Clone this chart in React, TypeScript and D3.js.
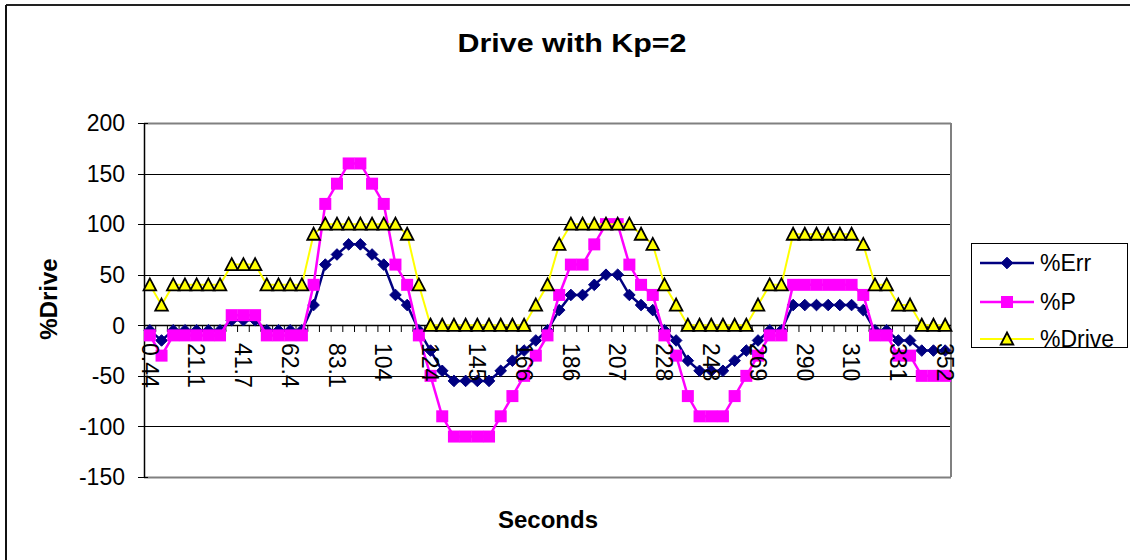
import React from "react";
import * as d3 from "d3";

const seconds: string[] = [
  "0.44", "5.6", "10.8", "15.9", "21.1", "26.3", "31.4", "36.6", "41.7", "46.9",
  "52.1", "57.2", "62.4", "67.6", "72.7", "77.9", "83.1", "88.3", "93.4", "98.6",
  "104", "109", "114", "119", "124", "130", "135", "140", "145", "150",
  "155", "160", "166", "171", "176", "181", "186", "192", "197", "202",
  "207", "212", "217", "223", "228", "233", "238", "243", "248", "254",
  "259", "264", "269", "274", "279", "285", "290", "295", "300", "305",
  "310", "316", "321", "326", "331", "336", "341", "347", "352",
];

const errValues: number[] = [
  -5, -15, -5, -5, -5, -5, -5, 5, 5, 5, -5, -5, -5, -5, 20, 60, 70, 80, 80, 70,
  60, 30, 20, -5, -25, -45, -55, -55, -55, -55, -45, -35, -25, -15, -5, 15, 30, 30, 40, 50,
  50, 30, 20, 15, -5, -15, -35, -45, -45, -45, -35, -25, -15, -5, -5, 20, 20, 20, 20, 20,
  20, 15, -5, -5, -15, -15, -25, -25, -25,
];

const pValues: number[] = [
  -10, -30, -10, -10, -10, -10, -10, 10, 10, 10, -10, -10, -10, -10, 40, 120, 140, 160, 160, 140,
  120, 60, 40, -10, -50, -90, -110, -110, -110, -110, -90, -70, -50, -30, -10, 30, 60, 60, 80, 100,
  100, 60, 40, 30, -10, -30, -70, -90, -90, -90, -70, -50, -30, -10, -10, 40, 40, 40, 40, 40,
  40, 30, -10, -10, -30, -30, -50, -50, -50,
];

const driveValues: number[] = [
  40, 20, 40, 40, 40, 40, 40, 60, 60, 60, 40, 40, 40, 40, 90, 100, 100, 100, 100, 100,
  100, 100, 90, 40, 0, 0, 0, 0, 0, 0, 0, 0, 0, 20, 40, 80, 100, 100, 100, 100,
  100, 100, 90, 80, 40, 20, 0, 0, 0, 0, 0, 0, 20, 40, 40, 90, 90, 90, 90, 90,
  90, 80, 40, 40, 20, 20, 0, 0, 0,
];

const yTicks: number[] = [200, 150, 100, 50, 0, -50, -100, -150];
const labelEvery = 4;

const seriesNames = ["%Err", "%P", "%Drive"];

const W = 1130;
const H = 560;
const plot = { left: 144, right: 951, top: 123, bottom: 477 };
const FONT = "'Liberation Sans', Arial, Helvetica, sans-serif";

function Marker({ kind, x, y }: { kind: number; x: number; y: number }) {
  if (kind === 0) {
    const r = 5.8;
    return (
      <path
        d={`M${x},${y - r}L${x + r},${y}L${x},${y + r}L${x - r},${y}Z`}
        fill="#000080"
        stroke="#000080"
        strokeWidth={1}
      />
    );
  }
  if (kind === 1) {
    const s = 12;
    return <rect x={x - s / 2} y={y - s / 2} width={s} height={s} fill="#FF00FF" />;
  }
  return (
    <path
      d={`M${x},${y - 6.5}L${x + 6.3},${y + 5.5}L${x - 6.3},${y + 5.5}Z`}
      fill="#FFFF00"
      stroke="#000000"
      strokeWidth={1.8}
      strokeLinejoin="miter"
    />
  );
}

export default function App() {
  const x = d3
    .scaleBand<number>()
    .domain(d3.range(seconds.length))
    .range([plot.left, plot.right])
    .paddingInner(0)
    .paddingOuter(0);
  const bw = x.bandwidth();
  const cx = (i: number) => (x(i) as number) + bw / 2;
  const y = d3.scaleLinear().domain([-150, 200]).range([plot.bottom, plot.top]);

  const series = [
    { values: errValues, color: "#000080", width: 2.5 },
    { values: pValues, color: "#FF00FF", width: 2.5 },
    { values: driveValues, color: "#FFFF00", width: 2 },
  ];

  const lineGen = d3
    .line<number>()
    .x((_, i) => cx(i))
    .y((d) => y(d));

  const y0 = Math.round(y(0));
  const boundaries = d3.range(1, seconds.length).map((i) => x(i) as number);

  const legendY = [263, 302, 339];

  return (
    <svg
      width={W}
      height={H}
      style={{ position: "absolute", left: 0, top: 0, background: "#fff" }}
      fontFamily={FONT}
    >
      <rect x={0} y={0} width={W} height={H} fill="#ffffff" />
      {/* chart border */}
      <line x1={6} y1={5} x2={W} y2={5} stroke="#222" strokeWidth={2} />
      <line x1={6} y1={5} x2={6} y2={H} stroke="#111" strokeWidth={2} />

      {/* title */}
      <text
        x={572}
        y={52}
        textAnchor="middle"
        fontSize={25}
        fontWeight="bold"
        textLength={229}
        lengthAdjust="spacingAndGlyphs"
      >
        Drive with Kp=2
      </text>

      {/* gridlines */}
      {yTicks.map((t) => (
        <line
          key={"g" + t}
          x1={plot.left}
          x2={plot.right}
          y1={Math.round(y(t)) + 0.5}
          y2={Math.round(y(t)) + 0.5}
          stroke={t === 200 || t === -150 ? "#808080" : "#000"}
          strokeWidth={t === 200 || t === -150 ? 2 : 1}
        />
      ))}
      {/* right border */}
      <line x1={plot.right} x2={plot.right} y1={plot.top} y2={plot.bottom} stroke="#808080" strokeWidth={2} />

      {/* y axis */}
      <line x1={plot.left + 0.5} x2={plot.left + 0.5} y1={plot.top} y2={plot.bottom} stroke="#000" strokeWidth={1.5} />
      {yTicks.map((t) => (
        <g key={"yt" + t}>
          <line
            x1={plot.left - 6}
            x2={plot.left + 4}
            y1={Math.round(y(t)) + 0.5}
            y2={Math.round(y(t)) + 0.5}
            stroke="#000"
          />
          <text x={125} y={y(t)} dy="0.36em" textAnchor="end" fontSize={23}>
            {t}
          </text>
        </g>
      ))}

      {/* x axis at 0 */}
      <line x1={plot.left} x2={plot.right} y1={y0 + 0.5} y2={y0 + 0.5} stroke="#000" strokeWidth={1.5} />
      {boundaries.map((b, i) => (
        <line key={"xt" + i} x1={b} x2={b} y1={y0} y2={y0 + 7} stroke="#000" strokeWidth={1} />
      ))}

      {/* series */}
      {series.map((s, si) => (
        <g key={"s" + si}>
          <path d={lineGen(s.values) || ""} fill="none" stroke={s.color} strokeWidth={s.width} />
          {s.values.map((v, i) => (
            <Marker key={i} kind={si} x={cx(i)} y={y(v)} />
          ))}
        </g>
      ))}

      {/* x tick labels */}
      {seconds.map((lab, i) =>
        i % labelEvery === 0 ? (
          <text
            key={"xl" + i}
            transform={`translate(${cx(i)},${y0 + 18}) rotate(90)`}
            dy="0.36em"
            textAnchor="start"
            fontSize={23}
          >
            {lab}
          </text>
        ) : null
      )}

      {/* axis titles */}
      <text x={548} y={528} textAnchor="middle" fontSize={24} fontWeight="bold">
        Seconds
      </text>
      <text transform="translate(57,299) rotate(-90)" textAnchor="middle" fontSize={24} fontWeight="bold">
        %Drive
      </text>

      {/* legend */}
      <rect x={971.5} y={243.5} width={156} height={104} fill="#fff" stroke="#000" strokeWidth={1} />
      {seriesNames.map((name, i) => (
        <g key={"lg" + i}>
          <line x1={980} x2={1034} y1={legendY[i]} y2={legendY[i]} stroke={series[i].color} strokeWidth={series[i].width} />
          <Marker kind={i} x={1007} y={legendY[i]} />
          <text x={1040} y={legendY[i]} dy="0.36em" fontSize={23}>
            {name}
          </text>
        </g>
      ))}
    </svg>
  );
}
